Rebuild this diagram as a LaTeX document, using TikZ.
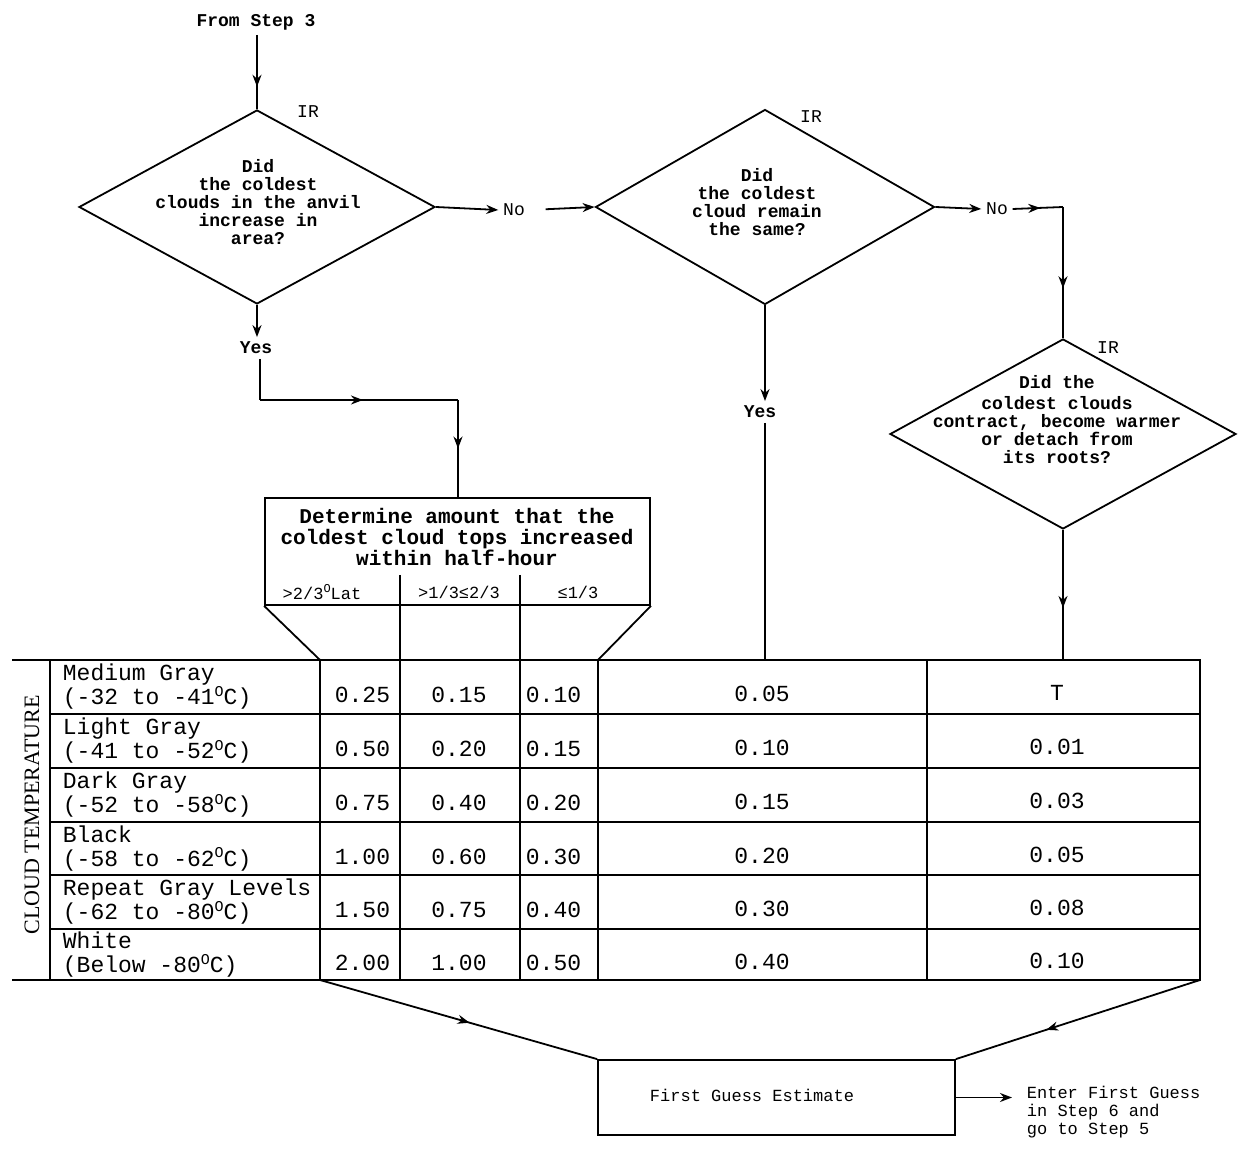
\documentclass[tikz,border=0pt]{standalone}
\usepackage{fontspec}
\setmainfont{Liberation Serif}
\setmonofont{Liberation Mono}
\usetikzlibrary{shapes.geometric,arrows.meta,decorations.markings}
\newcommand{\degO}{\raisebox{0.38em}{\fontsize{7.5}{7.5}\selectfont O}}
\newcommand{\degOs}{\raisebox{0.4em}{\fontsize{6}{6}\selectfont O}}
\begin{document}
\begin{tikzpicture}[x=0.5pt,y=-0.5pt,line width=0.9pt,
  midarrow/.style={postaction={decorate},decoration={markings,mark=at position #1 with {\arrow{Stealth[length=6pt,width=4.5pt]}}}},
  midarrow/.default=0.5,
  endarrow/.style={-{Stealth[length=6pt,width=4.5pt]}},
  dia/.style={draw,diamond,inner sep=0pt},
  qtext/.style={font=\ttfamily\bfseries\fontsize{9}{9}\selectfont,align=center,inner sep=0pt},
  lbl/.style={font=\ttfamily\bfseries\fontsize{9}{9}\selectfont,inner sep=2pt},
  irl/.style={font=\ttfamily\fontsize{9}{9}\selectfont,inner sep=0pt},
  rowlab/.style={font=\ttfamily\fontsize{11.5}{12}\selectfont,execute at begin node={\lineskiplimit=-20pt\relax},align=left,anchor=west,inner sep=0pt},
  val/.style={font=\ttfamily\fontsize{11.5}{11.5}\selectfont,inner sep=0pt},
  sub/.style={font=\ttfamily\fontsize{8.5}{9}\selectfont,inner sep=0pt},
  boxn/.style={draw,rectangle,inner sep=0pt}]
\useasboundingbox (0,0) rectangle (1244,1149);

% ---- top flow ----
\node[lbl] (start) at (256,22) {From Step 3};
\node[dia,minimum width=178pt,minimum height=97pt] (d1) at (257,207) {};
\node[qtext] (d1t) at (258,202) {Did\\the coldest\\clouds in the anvil\\increase in\\area?};
\node[irl] (ir1) at (308,112) {IR};

\node[lbl,font=\ttfamily\fontsize{9}{9}\selectfont] (no1) at (514,210) {No};
\node[dia,minimum width=169.5pt,minimum height=97.5pt] (d2) at (765,207) {};
\node[qtext] (d2t) at (757,202) {Did\\the coldest\\cloud remain\\the same?};
\node[irl] (ir2) at (811,117) {IR};

\node[lbl,font=\ttfamily\fontsize{9}{9}\selectfont] (no2) at (997,209) {No};
\coordinate (c1) at (1063,207);
\node[dia,minimum width=173pt,minimum height=95pt] (d3) at (1063,434) {};
\node[qtext] (d3t) at (1057,420) {Did the\\[1.5pt]coldest clouds\\contract, become warmer\\or detach from\\its roots?};
\node[irl] (ir3) at (1108,348) {IR};

\node[lbl] (yes1) at (256,348) {Yes};
\node[lbl] (yes2) at (760,412) {Yes};

% ---- determine box ----
\node[boxn,minimum width=192.5pt,minimum height=53.5pt] (det) at (457.5,551.5) {};
\node[font=\ttfamily\bfseries\fontsize{10.5}{10.3}\selectfont,align=center,inner sep=0pt] (dett) at (457,537) {Determine amount that the\\coldest cloud tops increased\\within half-hour};
\node[sub] (s1) at (322,592) {>2/3\degOs Lat};
\node[sub] (s2) at (459,592) {>1/3≤2/3};
\node[sub] (s3) at (578,592) {≤1/3};

% ---- table ----
\coordinate (tl) at (12,660);
\coordinate (tr) at (1200,660);
\coordinate (t4) at (765,660);
\coordinate (t5) at (1063,660);
\coordinate (b1) at (320,980);
\coordinate (b2) at (1200,980);
\draw (tl) -- (tr) -- (b2) -- (12,980);
\foreach \yy in {714,768,822,875,929} \draw (50,\yy) -- (1200,\yy);
\foreach \xx in {50,320,598,927} \draw (\xx,660) -- (\xx,980);
\draw (400,575) -- (400,980);
\draw (520,575) -- (520,980);
\draw (det.south west) -- (320,660);
\draw (det.south east) -- (598,660);

\node[font=\fontsize{11}{11}\selectfont,rotate=90,inner sep=0pt] (ct) at (32,815) {CLOUD TEMPERATURE};

\foreach \yc/\la/\lb/\va/\vb/\vc/\vd/\ve [count=\i] in {
  687/Medium Gray/(-32 to -41\degO C)/0.25/0.15/0.10/0.05/T,
  741/Light Gray/(-41 to -52\degO C)/0.50/0.20/0.15/0.10/0.01,
  795/Dark Gray/(-52 to -58\degO C)/0.75/0.40/0.20/0.15/0.03,
  848.5/Black/(-58 to -62\degO C)/1.00/0.60/0.30/0.20/0.05,
  902/Repeat Gray Levels/(-62 to -80\degO C)/1.50/0.75/0.40/0.30/0.08,
  955/White/(Below -80\degO C)/2.00/1.00/0.50/0.40/0.10} {
  \node[rowlab] (r\i) at (62,\yc) {\la\\\lb};
  \node[val,anchor=east] (v\i a) at (391,\yc+8) {\va};
  \node[val] (v\i b) at (459,\yc+8) {\vb};
  \node[val,anchor=west] (v\i c) at (525,\yc+8) {\vc};
  \node[val] (v\i d) at (762,\yc+7) {\vd};
  \node[val] (v\i e) at (1057,\yc+6) {\ve};
}

% ---- bottom ----
\node[boxn,minimum width=178.5pt,minimum height=37.5pt] (fg) at (776.5,1097.5) {};
\node[font=\ttfamily\fontsize{8.5}{9}\selectfont,inner sep=0pt] (fgt) at (752,1095) {First Guess Estimate};
\node[font=\ttfamily\fontsize{8.5}{9}\selectfont,align=left,anchor=west,inner sep=0pt] (enter) at (1026,1112) {Enter First Guess\\in Step 6 and\\go to Step 5};

% ---- connectors ----
\draw[midarrow=0.7] (start.south -| d1.north) -- (d1.north);
\draw[endarrow] (d1.east) -- (no1.west);
\draw[endarrow,shorten <=8pt] (no1.east) -- (d2.west);
\draw[endarrow] (d2.east) -- (no2.west);
\draw[midarrow=0.55] (no2.east) -- (c1);
\draw[midarrow=0.62] (c1) -- (d3.north);
\draw[endarrow] (d1.south) -- (d1.south |- yes1.north);
\coordinate (y1a) at (260,400);
\coordinate (y1b) at (458,400);
\draw (yes1.south -| y1a) -- (y1a);
\draw[midarrow=0.52] (y1a) -- (y1b);
\draw[midarrow=0.5] (y1b) -- (det.north -| y1b);
\draw[endarrow] (d2.south) -- (d2.south |- yes2.north);
\draw (yes2.south -| t4) -- (t4);
\draw[midarrow=0.6] (d3.south) -- (t5);
\draw[midarrow=0.54] (b1) -- (fg.north west);
\draw[midarrow=0.63] (b2) -- (fg.north east);
\draw[endarrow,shorten >=7pt] (fg.east) -- (fg.east -| enter.west);
\end{tikzpicture}
\end{document}
